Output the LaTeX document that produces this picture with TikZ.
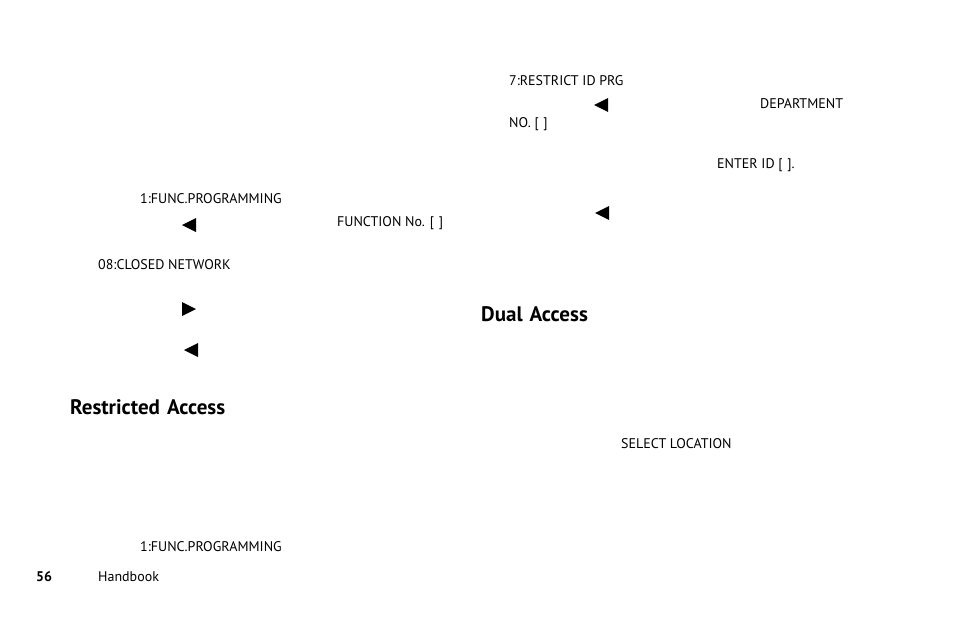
\documentclass[tikz,border=0pt]{standalone}
\usepackage{fontspec}
\setmainfont{PT Sans}
\begin{document}
\begin{tikzpicture}[x=1pt,y=-1pt,
  t/.style={anchor=west,inner sep=0pt,font=\fontsize{14}{16}\selectfont},
  h/.style={anchor=west,inner sep=0pt,font=\fontsize{21}{24}\selectfont\bfseries},
  tri/.style={fill=black}]
\useasboundingbox (0,0) rectangle (954,618);
\node[t] (a1) at (509,81) {7:RESTRICT ID PRG};
\node[t] (a2) at (760,104) {DEPARTMENT};
\node[t] (a3) at (509,124) {NO. [\,\,]};
\node[t] (a4) at (717,165) {ENTER ID [\,\,].};
\node[t] (b1) at (140,199) {1:FUNC.PROGRAMMING};
\node[t] (b2) at (337,223) {FUNCTION No. [\,\,]};
\node[t] (b3) at (98,265) {08:CLOSED NETWORK};
\node[h] (d) at (481,314) {Dual\,\,Access};
\node[h] (r) at (70,407) {Restricted\,\,Access};
\node[t] (s) at (621,444) {SELECT LOCATION};
\node[t] (b4) at (140,547) {1:FUNC.PROGRAMMING};
\node[t,font=\fontsize{14}{16}\selectfont\bfseries] (n) at (36,577) {56};
\node[t] (hb) at (98,577) {Handbook};
\fill[tri] (594,105) -- (608,98) -- (608,112) -- cycle;
\fill[tri] (595,213) -- (609,206) -- (609,220) -- cycle;
\fill[tri] (182,225) -- (196,218) -- (196,232) -- cycle;
\fill[tri] (196,309) -- (182,302) -- (182,316) -- cycle;
\fill[tri] (184,350) -- (198,343) -- (198,357) -- cycle;
\end{tikzpicture}
\end{document}
